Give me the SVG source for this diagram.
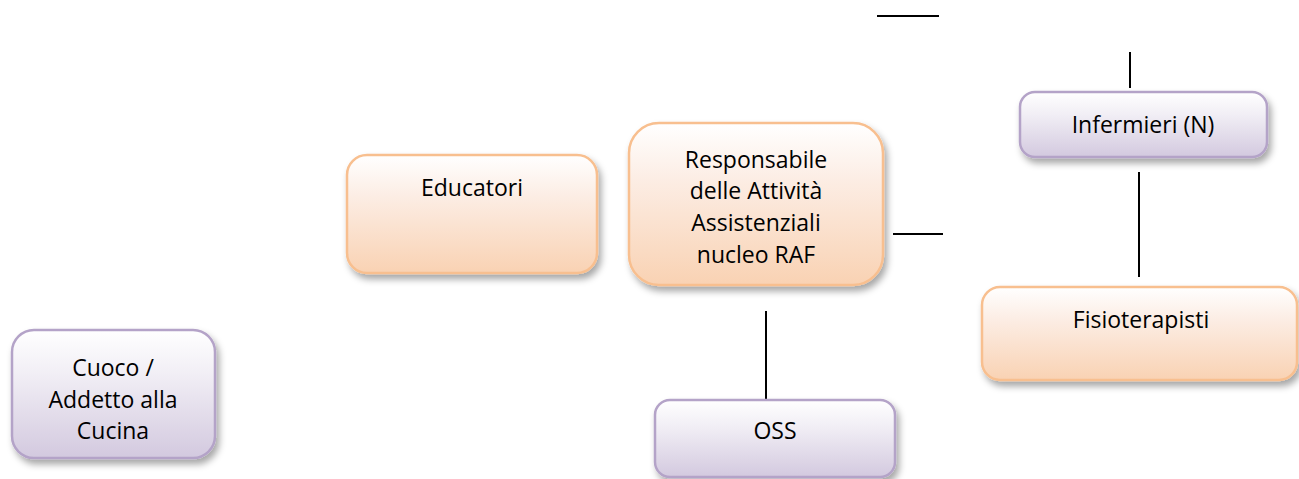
<svg xmlns="http://www.w3.org/2000/svg" width="1299" height="479" viewBox="0 0 1299 479">
<style>
.txt{font-family:"Open Sans","Noto Sans","Liberation Sans",sans-serif;font-size:23px;fill:#000;text-anchor:middle}
.or{fill:url(#gOr);stroke:#F8BF8F;stroke-width:2.5}
.pu{fill:url(#gPu);stroke:#B4A3C8;stroke-width:2.5}
.ln{stroke:#000;stroke-width:2;fill:none}
</style>
<defs>
<linearGradient id="gOr" x1="0" y1="0" x2="0" y2="1">
<stop offset="0" stop-color="#FFFFFF"/>
<stop offset="0.35" stop-color="#FCEDE4"/>
<stop offset="1" stop-color="#F9D2B3"/>
</linearGradient>
<linearGradient id="gPu" x1="0" y1="0" x2="0" y2="1">
<stop offset="0" stop-color="#FFFFFF"/>
<stop offset="0.35" stop-color="#F1EEF5"/>
<stop offset="1" stop-color="#D3C9DF"/>
</linearGradient>
<filter id="sh" x="-10%" y="-10%" width="125%" height="135%">
<feDropShadow dx="3" dy="5" stdDeviation="3.5" flood-color="#000" flood-opacity="0.35"/>
</filter>
</defs>
<g id="connectors">
<line class="ln" x1="877" y1="16" x2="939" y2="16"/>
<line class="ln" x1="1130" y1="52" x2="1130" y2="88"/>
<line class="ln" x1="893" y1="234" x2="943" y2="234"/>
<line class="ln" x1="1139" y1="172" x2="1139" y2="277"/>
<line class="ln" x1="766" y1="311" x2="766" y2="399"/>
</g>
<g id="educatori">
<rect class="or" filter="url(#sh)" x="347" y="155" width="250" height="118" rx="20"/>
<text class="txt" x="472" y="196">Educatori</text>
</g>
<g id="responsabile">
<rect class="or" filter="url(#sh)" x="629" y="123" width="254" height="162" rx="30"/>
<text class="txt" x="756" y="168">Responsabile</text>
<text class="txt" x="756" y="199">delle Attività</text>
<text class="txt" x="756" y="231">Assistenziali</text>
<text class="txt" x="756" y="263">nucleo RAF</text>
</g>
<g id="infermieri">
<rect class="pu" filter="url(#sh)" x="1020" y="92" width="247" height="65" rx="15"/>
<text class="txt" x="1143" y="133">Infermieri (N)</text>
</g>
<g id="fisioterapisti">
<rect class="or" filter="url(#sh)" x="982" y="287" width="315" height="93" rx="18"/>
<text class="txt" x="1141" y="328">Fisioterapisti</text>
</g>
<g id="cuoco">
<rect class="pu" filter="url(#sh)" x="12" y="330" width="203" height="128" rx="22"/>
<text class="txt" x="113" y="376">Cuoco /</text>
<text class="txt" x="113" y="408">Addetto alla</text>
<text class="txt" x="113" y="439">Cucina</text>
</g>
<g id="oss">
<rect class="pu" filter="url(#sh)" x="655" y="400" width="240" height="77" rx="15"/>
<text class="txt" x="775" y="439">OSS</text>
</g>
</svg>
